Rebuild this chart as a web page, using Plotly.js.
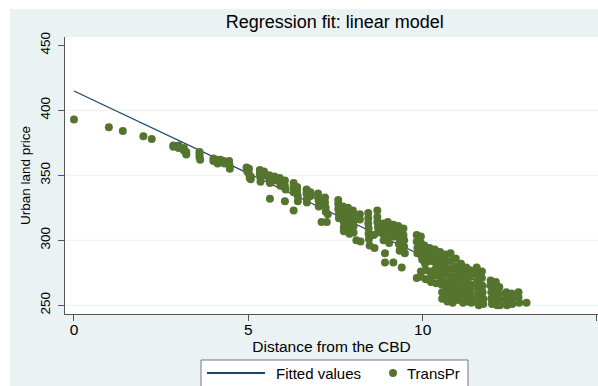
<!DOCTYPE html>
<html>
<head>
<meta charset="utf-8">
<script src="https://cdn.plot.ly/plotly-3.0.1.min.js"></script>
<style>html,body{margin:0;padding:0;background:#fff;}#chart{width:598px;height:386px;}</style>
</head>
<body>
<div id="chart"></div>
<script>
// Distance from the CBD (x) and urban land price (y) for each observation
var transX = [
  0.00, 1.00, 1.40, 1.99, 2.23, 2.85, 2.85, 3.00, 3.00, 3.15, 3.15, 3.22, 3.22,
  3.60, 3.60, 3.60, 3.62, 4.00, 4.00, 4.10, 4.10, 4.12, 4.20, 4.22, 4.30, 4.32,
  4.45, 4.46, 4.47, 4.95, 4.97, 5.02, 5.02, 5.04, 5.07, 5.07, 5.33, 5.33, 5.35,
  5.35, 5.45, 5.45, 5.60, 5.60, 5.62, 5.62, 5.75, 5.75, 5.90, 5.92, 5.92, 6.05,
  6.05, 6.07, 6.05, 6.30, 6.30, 6.30, 6.30, 6.40, 6.40, 6.42, 6.42, 6.67, 6.67,
  6.68, 6.68, 6.78, 6.78, 7.00, 7.00, 7.02, 7.02, 7.10, 7.20, 7.20, 7.22, 7.22,
  7.25, 7.28, 7.58, 7.58, 7.58, 7.60, 7.60, 7.72, 7.72, 7.72, 7.74, 7.74, 7.74,
  7.86, 7.86, 7.88, 7.88, 7.88, 7.90, 8.00, 8.00, 8.02, 8.02, 8.02, 8.10, 8.20,
  8.20, 8.22, 8.44, 8.44, 8.44, 8.45, 8.45, 8.46, 8.48, 8.60, 8.62, 8.70, 8.70,
  8.70, 8.72, 8.72, 8.86, 8.86, 8.88, 8.88, 8.92, 8.92, 9.00, 9.00, 9.02, 9.02,
  9.04, 9.16, 9.16, 9.18, 9.16, 9.30, 9.30, 9.32, 9.32, 9.34, 9.40, 9.45, 9.45,
  9.47, 9.47, 9.49, 9.83, 9.83, 9.85, 9.85, 9.83, 9.95, 9.95, 9.97, 9.97, 9.99,
  9.95, 9.95, 10.05, 10.05, 10.07, 10.07, 10.09, 10.09, 10.20, 10.20, 10.22,
  10.22, 10.24, 10.24, 10.35, 10.35, 10.37, 10.37, 10.39, 10.39, 10.50, 10.50,
  10.52, 10.52, 10.54, 10.54, 10.56, 10.56, 10.65, 10.65, 10.67, 10.67, 10.69,
  10.69, 10.71, 10.71, 10.80, 10.80, 10.82, 10.82, 10.84, 10.84, 10.86, 10.86,
  10.95, 10.95, 10.97, 10.97, 10.99, 10.99, 11.01, 11.10, 11.10, 11.12, 11.12,
  11.14, 11.14, 11.16, 11.25, 11.25, 11.27, 11.27, 11.29, 11.29, 11.36, 11.36,
  11.38, 11.38, 11.40, 11.40, 11.55, 11.55, 11.57, 11.57, 11.59, 11.59, 11.61,
  11.70, 11.70, 11.72, 11.72, 11.74, 11.74, 11.95, 11.95, 11.97, 11.97, 11.99,
  12.10, 12.10, 12.12, 12.12, 12.14, 12.20, 12.20, 12.22, 12.22, 12.40, 12.40,
  12.42, 12.42, 12.55, 12.55, 12.57, 12.75, 12.75, 12.77, 12.98
];
var transY = [
  393, 387, 384, 380, 378, 373, 372, 373, 371, 371, 369, 368, 366,
  368, 366, 364, 362, 363, 361, 362, 360, 359, 362, 360, 361, 359,
  361, 358, 355, 356, 353, 355, 351, 348, 349, 347, 354, 351, 348,
  345, 353, 350, 350, 347, 344, 332, 349, 346, 348, 345, 342, 346,
  342, 339, 330, 344, 341, 337, 323, 341, 338, 334, 330, 339, 336,
  332, 329, 337, 334, 336, 333, 330, 326, 314, 333, 329, 325, 322,
  314, 320, 331, 328, 324, 320, 317, 326, 322, 318, 314, 310, 307,
  325, 321, 317, 313, 309, 305, 323, 319, 315, 311, 306, 300, 320,
  316, 299, 321, 317, 313, 309, 305, 301, 296, 304, 294, 323, 318,
  314, 310, 306, 313, 309, 305, 300, 290, 283, 314, 311, 307, 303,
  298, 312, 308, 303, 283, 311, 307, 302, 297, 292, 279, 309, 304,
  300, 295, 290, 304, 299, 294, 290, 271, 303, 298, 293, 288, 285,
  276, 272, 296, 291, 287, 282, 277, 270, 294, 289, 284,
  276, 272, 268, 293, 288, 283, 278, 273, 267, 291, 286,
  281, 276, 271, 266, 260, 255, 289, 284, 279, 274, 268,
  263, 258, 253, 290, 284, 278, 272, 267, 262, 257, 252,
  286, 280, 275, 270, 264, 259, 254, 282, 277, 272, 267,
  262, 257, 252, 279, 274, 268, 263, 258, 253, 277, 272,
  266, 261, 256, 252, 279, 274, 269, 264, 259, 254, 250,
  276, 271, 265, 260, 255, 251, 269, 265, 260, 255, 251,
  268, 263, 258, 253, 250, 264, 259, 254, 250, 260, 256,
  252, 250, 259, 255, 251, 260, 256, 252, 252
];
// Fitted values of the linear model, at the ends of the data range
var fitX = [0, 12.98];
var fitY = [414.9, 250.3];

var yTicks = [250, 300, 350, 400, 450];
var xTicks = [0, 5, 10, 15];
var gridVals = [250, 300, 350, 400];
var seriesNames = ['Fitted values', 'TransPr'];

var FONT = 'Liberation Sans, Arial, Helvetica, sans-serif';
var BG = '#eaf2f3';
var LINE_C = '#1a476f';
var DOT_C = '#55752f';

var traces = [
  {x: fitX, y: fitY, type: 'scatter', mode: 'lines', name: seriesNames[0],
   line: {color: LINE_C, width: 1.2}},
  {x: transX, y: transY, type: 'scatter', mode: 'markers', name: seriesNames[1],
   marker: {color: DOT_C, size: 8, line: {width: 0}}}
];

// pixel -> paper helpers (plot area: x 65..598, y 37..314)
function px(x) { return (x - 65) / 533; }
function py(y) { return (314 - y) / 277; }

var shapes = [
  {type: 'rect', xref: 'paper', yref: 'paper', x0: px(-5), x1: px(603), y0: py(9), y1: py(-5), fillcolor: '#ffffff', line: {width: 0}, layer: 'below'},
  {type: 'rect', xref: 'paper', yref: 'paper', x0: px(-5), x1: px(10), y0: py(395), y1: py(-5), fillcolor: '#ffffff', line: {width: 0}, layer: 'below'},
  // legend box and keys
  {type: 'rect', xref: 'paper', yref: 'paper', x0: px(201), x1: px(468), y0: py(395), y1: py(360), fillcolor: '#ffffff', line: {color: '#777', width: 1}},
  {type: 'line', xref: 'paper', yref: 'paper', x0: px(207), x1: px(265), y0: py(373), y1: py(373), line: {color: LINE_C, width: 2}},
  {type: 'circle', xref: 'paper', yref: 'paper', x0: px(389), x1: px(397), y0: py(377), y1: py(369), fillcolor: DOT_C, line: {width: 0}}
];
gridVals.forEach(function (v) {
  shapes.push({type: 'line', xref: 'paper', yref: 'y', x0: 0, x1: 1, y0: v, y1: v,
    line: {color: BG, width: 1}, layer: 'below'});
});

var annotations = [
  {text: seriesNames[0], xref: 'paper', yref: 'paper', x: px(274), y: py(373), xanchor: 'left', yanchor: 'middle', showarrow: false, font: {size: 15, family: FONT, color: '#000'}},
  {text: seriesNames[1], xref: 'paper', yref: 'paper', x: px(405), y: py(373), xanchor: 'left', yanchor: 'middle', showarrow: false, font: {size: 15, family: FONT, color: '#000'}}
];

var layout = {
  width: 598, height: 386,
  margin: {l: 65, r: 0, t: 37, b: 72},
  paper_bgcolor: BG, plot_bgcolor: '#ffffff',
  font: {family: FONT, color: '#000000'},
  title: {text: 'Regression fit: linear model', font: {size: 18, family: FONT, color: '#000'},
          x: 0.5597, xref: 'container', xanchor: 'center', y: 0.943, yref: 'container', yanchor: 'middle'},
  xaxis: {range: [-0.258, 15.03], tickvals: xTicks, ticktext: xTicks.map(String),
          showgrid: false, zeroline: false, showline: true, linecolor: '#555', linewidth: 1,
          ticks: 'outside', ticklen: 6, tickcolor: '#555', tickfont: {size: 15.5},
          ticklabelstandoff: -5,
          title: {text: 'Distance from the CBD', font: {size: 15.5}, standoff: 0}},
  yaxis: {range: [243.3, 456.4], tickvals: yTicks, ticktext: yTicks.map(String),
          showgrid: false, zeroline: false, showline: true, linecolor: '#555', linewidth: 1,
          ticks: 'outside', ticklen: 6, tickcolor: '#555', tickfont: {size: 13.5}, tickangle: -90,
          ticklabelstandoff: 3,
          title: {text: 'Urban land price', font: {size: 13.5}, standoff: 3}},
  showlegend: false,
  shapes: shapes,
  annotations: annotations
};

Plotly.newPlot('chart', traces, layout, {displayModeBar: false, staticPlot: true});
</script>
</body>
</html>
